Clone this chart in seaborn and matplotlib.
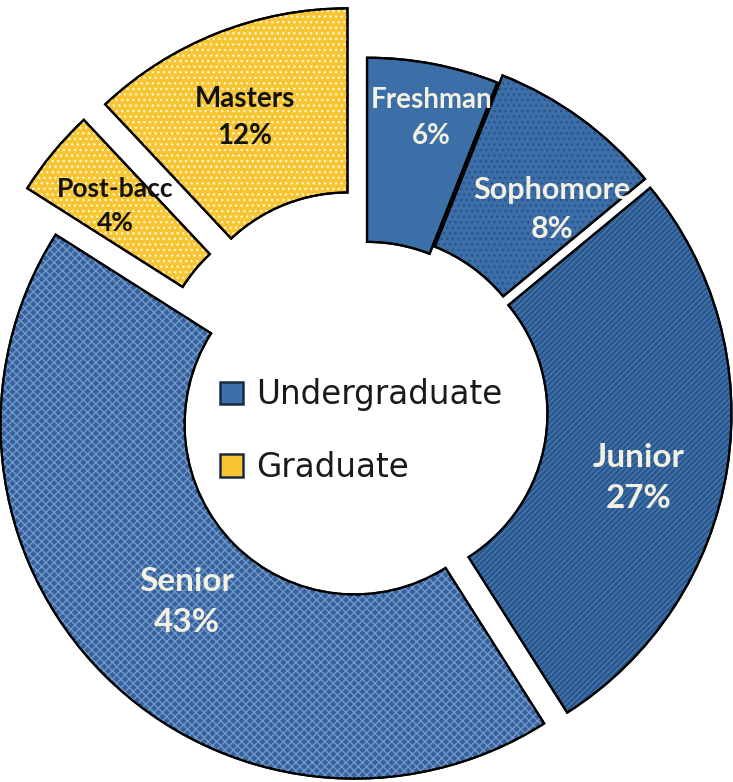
import matplotlib
matplotlib.use('Agg')
import matplotlib.pyplot as plt
from matplotlib.patches import Patch
import seaborn as sns
import numpy as np

# Data
levels = ['Freshman', 'Sophomore', 'Junior', 'Senior', 'Post-bacc', 'Masters']
shares = [6, 8, 27, 43, 4, 12]
groups = ['Undergraduate', 'Undergraduate', 'Undergraduate', 'Undergraduate', 'Graduate', 'Graduate']
group_names = ['Undergraduate', 'Graduate']

# Styling
sns.set_theme(style='white')
plt.rcParams['font.family'] = ['Lato', 'DejaVu Sans']
plt.rcParams['hatch.linewidth'] = 1.0

blue, yellow = '#3c6ea7', '#f7c531'
group_colors = {'Undergraduate': blue, 'Graduate': yellow}
colors = [group_colors[g] for g in groups]
colors[3] = '#33629c'
hatches = [None, '...', '//////', 'xxxx', '...', '...']
hatch_colors = [blue, '#29528a', '#254d7e', '#7397c8', '#fff4cf', '#fff4cf']
explode = [0.0, 0.025, 0.03, 0.05, 0.15, 0.15]
text_colors = ['#f4f0e2'] * 4 + ['#111111'] * 2
text_sizes = [20, 22, 24, 24, 19, 20]

fig = plt.figure(figsize=(7.33, 7.82), dpi=100)
ax = fig.add_axes([0, 0, 1, 1])

wedge_kw = dict(startangle=90, counterclock=False, explode=explode, radius=1.0)
ring = 0.52

# base fill with outline
base, _ = ax.pie(shares, colors=colors,
                 wedgeprops=dict(width=ring, edgecolor='black', linewidth=1.6), **wedge_kw)
# hatch overlay
over, _ = ax.pie(shares, colors=['none'] * len(shares),
                 wedgeprops=dict(width=ring, linewidth=0), **wedge_kw)
for w, h, hc in zip(over, hatches, hatch_colors):
    w.set_facecolor('none')
    w.set_edgecolor(hc)
    if h:
        w.set_hatch(h)
# outline again on top
top, _ = ax.pie(shares, colors=['none'] * len(shares),
                wedgeprops=dict(width=ring, edgecolor='black', linewidth=1.6), **wedge_kw)
for w in top:
    w.set_facecolor('none')

# labels
label_r = [0.85, 0.75, 0.76, 0.69, 0.77, 0.75]
label_shift = [-1.5, -6.5, -4.6, 1.5, 0.3, 1.0]
for w, name, val, ex, r, sh, tc, ts in zip(base, levels, shares, explode, label_r,
                                           label_shift, text_colors, text_sizes):
    ang = np.deg2rad((w.theta1 + w.theta2) / 2 + sh)
    rr = r + ex
    ax.text(rr * np.cos(ang), rr * np.sin(ang), f'{name}\n{val}%', ha='center', va='center',
            color=tc, fontsize=ts, fontweight='bold', linespacing=1.5)

# legend in the hole
handles = [Patch(facecolor=group_colors[g], edgecolor='#1a2a40', linewidth=1.8) for g in group_names]
leg = ax.legend(handles, group_names, loc='center', bbox_to_anchor=(-0.017, -0.054),
                bbox_transform=ax.transData, frameon=False, handlelength=0.7, handleheight=0.7,
                handletextpad=0.4, labelspacing=1.2,
                prop=dict(family='DejaVu Sans', size=23.5))
for t in leg.get_texts():
    t.set_color('#1a1a1a')

ax.set_xlim(-1.037, 1.034)
ax.set_ylim(-1.045, 1.163)
ax.set_aspect('auto')
ax.axis('off')

plt.savefig('out.png', dpi=100)
